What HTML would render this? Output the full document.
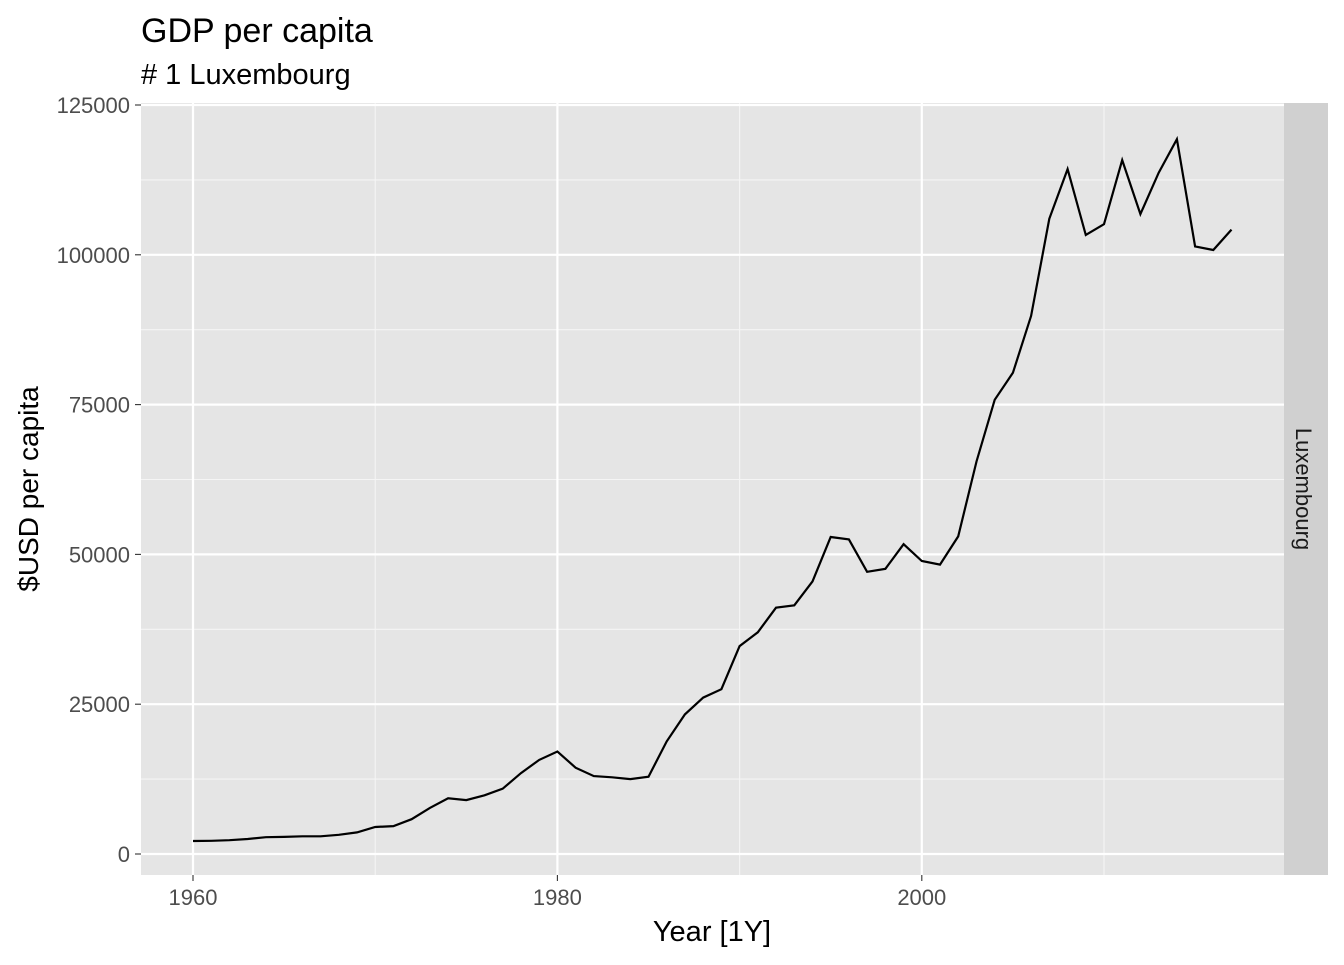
<!DOCTYPE html>
<html><head><meta charset="utf-8"><style>
body{margin:0;background:#fff;}
svg text{font-family:"Liberation Sans",Arial,sans-serif;}
</style></head><body>
<svg id="chart" width="1344" height="960" xmlns="http://www.w3.org/2000/svg">
<text x="141" y="42" font-size="34" fill="#000">GDP per capita</text>
<text x="141" y="84" font-size="29" fill="#000"># 1 Luxembourg</text>
<rect x="141" y="103" width="1143" height="772" fill="#e5e5e5"/>
<rect x="1284" y="103" width="44" height="772" fill="#d0d0d0"/>
<text transform="translate(1296,489) rotate(90)" font-size="22" fill="#1a1a1a" text-anchor="middle">Luxembourg</text>
<g id="grid"></g>
<g id="axes"></g>
<path id="line" fill="none" stroke="#000" stroke-width="2.2"/>
<text x="712" y="941" font-size="29" text-anchor="middle" fill="#000">Year [1Y]</text>
<text transform="translate(38,489) rotate(-90)" font-size="28" text-anchor="middle" fill="#000">$USD per capita</text>
</svg>
<script>
const startYear = 1960;
const gdp = [2170,2200,2300,2500,2800,2850,2950,2950,3200,3600,4500,4650,5800,7700,9300,9000,9800,10900,13500,15700,17100,14400,13000,12800,12500,12900,18800,23300,26100,27500,34700,37000,41100,41500,45500,52900,52500,47100,47600,51700,48900,48300,53000,65500,75800,80300,89800,106000,114300,103300,105100,115800,106800,113700,119300,101400,100800,104200];
const xTicks = [1960,1980,2000];
const xMinor = [1970,1990,2010];
const yTicks = [0,25000,50000,75000,100000,125000];
const yMinor = [12500,37500,62500,87500,112500];
const NS="http://www.w3.org/2000/svg";
const x = yr => 193 + (yr-1960)*18.22;
const y = v => 854 - v*0.005992;
const grid=document.getElementById('grid'), axes=document.getElementById('axes');
function ln(p,x1,y1,x2,y2,c,w){const l=document.createElementNS(NS,'line');l.setAttribute('x1',x1);l.setAttribute('y1',y1);l.setAttribute('x2',x2);l.setAttribute('y2',y2);l.setAttribute('stroke',c);l.setAttribute('stroke-width',w);p.appendChild(l);return l;}
function tx(p,xx,yy,s,anc){const t=document.createElementNS(NS,'text');t.setAttribute('x',xx);t.setAttribute('y',yy);t.setAttribute('font-size','22');t.setAttribute('fill','#4d4d4d');t.setAttribute('text-anchor',anc);t.textContent=s;p.appendChild(t);return t;}
yMinor.forEach(v=>{const l=ln(grid,141,y(v),1284,y(v),'#f5f5f5',1.1);

});
xMinor.forEach(v=>{const l=ln(grid,x(v),103,x(v),875,'#f5f5f5',1.1);

});
yTicks.forEach(v=>{const l=ln(grid,141,y(v),1284,y(v),'#fff',2.2);


const t=ln(axes,135,y(v),141,y(v),'#333',1.1);


const lb=tx(axes,130,y(v)+8,String(v),'end');

});
xTicks.forEach(v=>{const l=ln(grid,x(v),103,x(v),875,'#fff',2.2);


const t=ln(axes,x(v),875,x(v),881,'#333',1.1);


const lb=tx(axes,x(v),905,String(v),'middle');

});
document.getElementById('line').setAttribute('d',gdp.map((v,i)=>(i?'L':'M')+x(startYear+i).toFixed(1)+','+y(v).toFixed(1)).join(''));
</script>
</body></html>
